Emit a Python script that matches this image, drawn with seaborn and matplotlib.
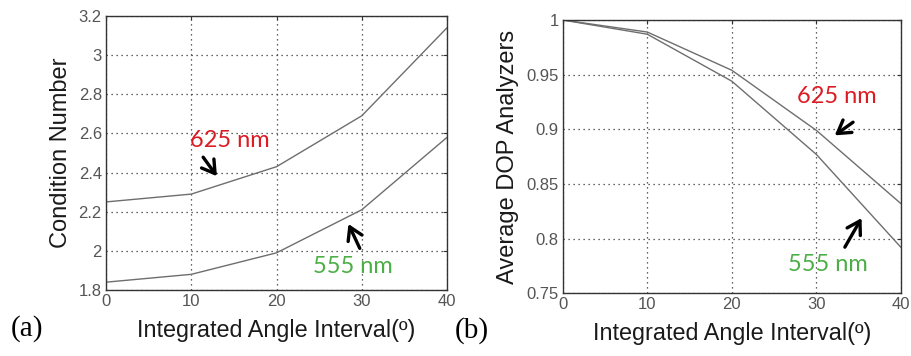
import matplotlib
matplotlib.use("Agg")
import matplotlib.pyplot as plt
import seaborn as sns
import pandas as pd

# ---- data ----
angle = [0, 10, 20, 30, 40]
cond_625 = [2.25, 2.29, 2.43, 2.69, 3.14]
cond_555 = [1.84, 1.88, 1.99, 2.21, 2.58]
dop_625 = [1.0, 0.989, 0.954, 0.899, 0.832]
dop_555 = [1.0, 0.987, 0.944, 0.877, 0.792]

xticks = [0, 10, 20, 30, 40]
yticks_a = [1.8, 2.0, 2.2, 2.4, 2.6, 2.8, 3.0, 3.2]
yticks_a_lbl = ["1.8", "2", "2.2", "2.4", "2.6", "2.8", "3", "3.2"]
yticks_b = [0.75, 0.8, 0.85, 0.9, 0.95, 1.0]
yticks_b_lbl = ["0.75", "0.8", "0.85", "0.9", "0.95", "1"]

sns.set_style("white")
plt.rcParams["font.family"] = ["Liberation Sans", "DejaVu Sans"]

fig = plt.figure(figsize=(9.11, 3.56), dpi=100)
ax_a = fig.add_axes([0.1164, 0.1854, 0.3743, 0.7697])
ax_b = fig.add_axes([0.6177, 0.1761, 0.3713, 0.7677])

LINE = "#6e6e6e"
RED = "#dc1c24"
GREEN = "#4caf46"

def panel(ax, s625, s555, yticks, ylbls, ylabel):
    df = pd.DataFrame({
        "angle": angle + angle,
        "val": s625 + s555,
        "wl": ["625"] * len(angle) + ["555"] * len(angle),
    })
    sns.lineplot(data=df, x="angle", y="val", hue="wl",
                 palette={"625": LINE, "555": LINE}, legend=False,
                 ax=ax, linewidth=1.0)
    ax.set_xlim(0, 40)
    ax.set_ylim(yticks[0], yticks[-1])
    ax.set_xticks(xticks)
    ax.set_xticklabels([str(t) for t in xticks])
    ax.set_yticks(yticks)
    ax.set_yticklabels(ylbls)
    ax.grid(True, linestyle=(0, (1, 3)), color="#333333", linewidth=0.9)
    for sp in ax.spines.values():
        sp.set_visible(True)
        sp.set_color("#333333")
        sp.set_linewidth(1.0)
    ax.tick_params(axis="both", direction="in", length=3, colors="#333333",
                   labelcolor="#555555", labelsize=12, pad=3,
                   top=True, right=True)
    ax.set_xlabel("Integrated Angle Interval(º)", fontsize=16.8,
                  color="#1a1a1a", labelpad=7)
    ax.set_ylabel(ylabel, fontsize=17, color="#1a1a1a", labelpad=5)

panel(ax_a, cond_625, cond_555, yticks_a, yticks_a_lbl, "Condition Number")
panel(ax_b, dop_625, dop_555, yticks_b, yticks_b_lbl, "Average DOP Analyzers")

arrow = dict(arrowstyle="->,head_length=0.9,head_width=0.55", color="black", lw=2.4)
tfont = dict(family=["Lato", "DejaVu Sans"], fontsize=17, ha="center", va="center")

ax_a.text(14.5, 2.566, "625 nm", color=RED, **tfont)
ax_a.annotate("", xy=(13.2, 2.37), xytext=(11.2, 2.49), arrowprops=arrow)
ax_a.text(28.9, 1.918, "555 nm", color=GREEN, **tfont)
ax_a.annotate("", xy=(28.3, 2.15), xytext=(29.9, 2.00), arrowprops=arrow)

ax_b.text(32.4, 0.9296, "625 nm", color=RED, **tfont)
ax_b.annotate("", xy=(31.9, 0.893), xytext=(34.6, 0.908), arrowprops=arrow)
ax_b.text(31.3, 0.776, "555 nm", color=GREEN, **tfont)
ax_b.annotate("", xy=(35.5, 0.821), xytext=(33.2, 0.790), arrowprops=arrow)

fig.text(11 / 911, 1 - 329 / 356, "(a)", family=["Liberation Serif", "DejaVu Serif"],
         fontsize=21, va="center", ha="left", color="black")
fig.text(455 / 911, 1 - 331 / 356, "(b)", family=["Liberation Serif", "DejaVu Serif"],
         fontsize=21, va="center", ha="left", color="black")

fig.savefig("out.png", dpi=100, facecolor="white")
